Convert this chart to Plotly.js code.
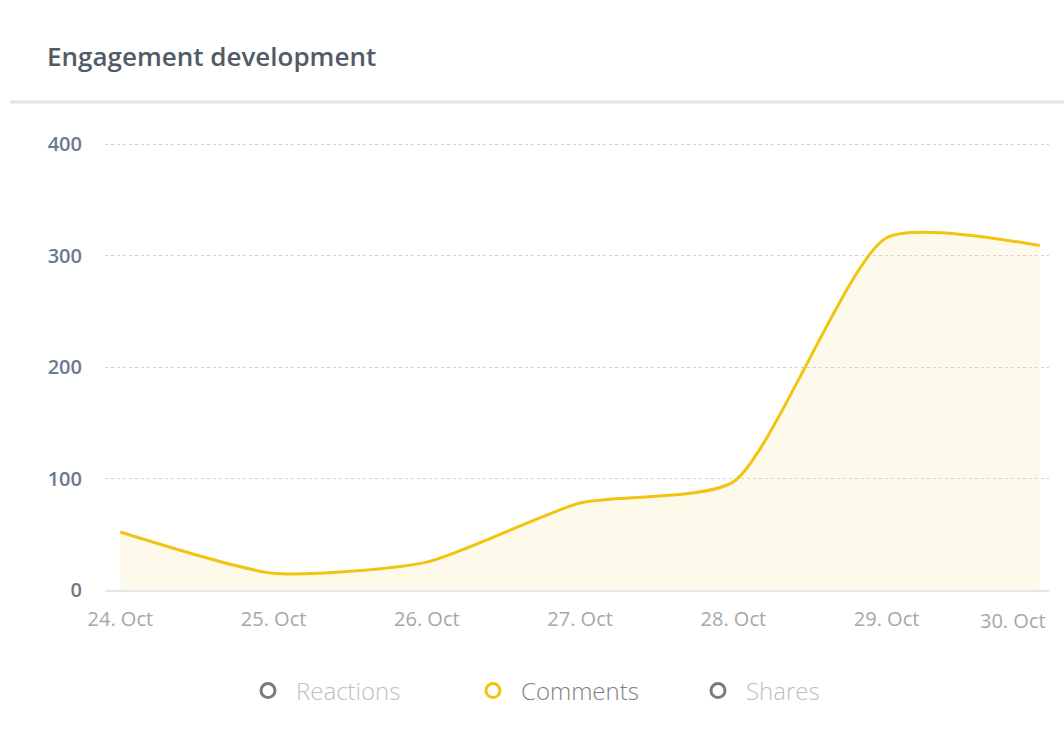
<!DOCTYPE html>
<html>
<head>
<meta charset="utf-8">
<script src="https://cdn.plot.ly/plotly-3.0.1.min.js"></script>
<style>html,body{margin:0;padding:0;background:#fff;}#chart{width:1064px;height:753px;}</style>
</head>
<body>
<div id="chart"></div>
<script>
const categories = ["24. Oct", "25. Oct", "26. Oct", "27. Oct", "28. Oct", "29. Oct", "30. Oct"];
const comments = [52, 15, 25, 78, 97, 316, 309];
const reactions = [null, null, null, null, null, null, null];
const shares = [null, null, null, null, null, null, null];
const seriesNames = ["Reactions", "Comments", "Shares"];
const yTicks = [0, 100, 200, 300, 400];

const lastCat = categories[categories.length - 1];
const tickText = categories.map(c => c === lastCat ? "" : c);

function legendEntry(name, values, symColor, textColor) {
  return {
    x: categories, y: values, type: "scatter", mode: "markers",
    name: '<span style="color:' + textColor + '">' + name + '</span>',
    marker: {symbol: "circle-open", size: 14, color: symColor, line: {width: 3, color: symColor}},
    hoverinfo: "skip"
  };
}

const traces = [
  {
    x: categories, y: comments, type: "scatter", mode: "lines",
    line: {color: "#f1c40f", width: 3, shape: "spline", smoothing: 0.6},
    fill: "tozeroy", fillcolor: "rgba(250,215,100,0.13)",
    showlegend: false, hoverinfo: "x+y"
  },
  legendEntry(seriesNames[0], reactions, "#737c85", "#bcc0c4"),
  legendEntry(seriesNames[1], comments.map(() => null), "#f1c40f", "#7d8185"),
  legendEntry(seriesNames[2], shares, "#737c85", "#bcc0c4")
];

const layout = {
  width: 1064, height: 753,
  paper_bgcolor: "#fff", plot_bgcolor: "#fff",
  margin: {l: 105, r: 15, t: 143, b: 163},
  font: {family: "Open Sans, sans-serif"},
  title: {
    text: "Engagement development",
    x: 47 / 1064, xanchor: "left", xref: "container",
    y: 1 - 57 / 753, yanchor: "middle", yref: "container",
    font: {size: 26, color: "#515b67", weight: 600}
  },
  xaxis: {
    type: "category",
    range: [-0.1, 6.06],
    tickvals: categories, ticktext: tickText,
    showgrid: false, zeroline: false,
    showline: true, linecolor: "#e4e6e8", linewidth: 2,
    ticks: "", ticklabelstandoff: 10,
    tickfont: {size: 20, color: "#a4a8ad"}
  },
  yaxis: {
    range: [0, 401],
    tickvals: yTicks,
    showgrid: true, gridcolor: "#cdd1d5", gridwidth: 1, griddash: "dot",
    zeroline: false, showline: false, ticks: "",
    ticklabelstandoff: 22,
    tickfont: {size: 20, color: "#6b7a8c", weight: 600}
  },
  legend: {
    orientation: "h", xref: "container", x: 240 / 1064, xanchor: "left",
    yref: "container", y: 1 - 691 / 753, yanchor: "middle",
    font: {size: 24, color: "#7d8185", weight: 300},
    itemwidth: 46, entrywidth: 164, entrywidthmode: "pixels",
    itemclick: false, itemdoubleclick: false
  },
  shapes: [{
    type: "line", xref: "paper", yref: "paper",
    x0: (10 - 105) / 944, x1: (1064 - 105) / 944,
    y0: (590 - 102) / 447, y1: (590 - 102) / 447,
    line: {color: "#e2e4e6", width: 3}
  }],
  annotations: [{
    x: lastCat, y: 0, xref: "x", yref: "y",
    text: lastCat, showarrow: false,
    xanchor: "right", yanchor: "top", xshift: 8, yshift: -15,
    font: {size: 20, color: "#a4a8ad"}
  }]
};

Plotly.newPlot("chart", traces, layout, {displayModeBar: false, staticPlot: true});
</script>
</body>
</html>
